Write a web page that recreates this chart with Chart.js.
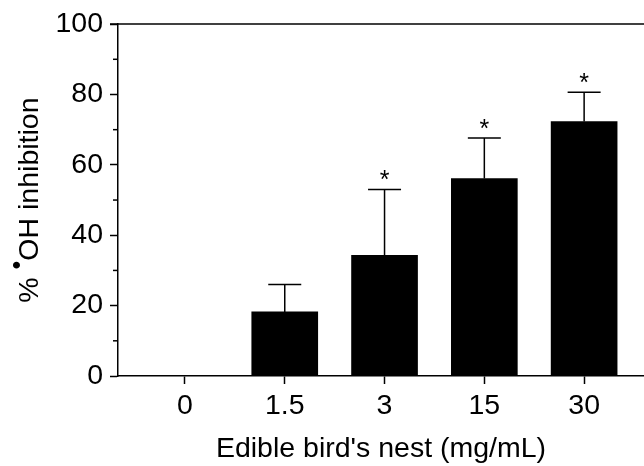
<!DOCTYPE html>
<html>
<head>
<meta charset="utf-8">
<script src="https://cdn.jsdelivr.net/npm/chart.js@4.4.0/dist/chart.umd.min.js"></script>
<style>
  body { margin: 0; background: #fff; }
  #wrap { width: 644px; height: 466px; }
</style>
</head>
<body>
<div id="wrap"><canvas id="myChart"></canvas></div>
<script>
// data
var doses = ['0', '1.5', '3', '15', '30'];
var inhibition = [0, 18.2, 34.3, 56.1, 72.3];
var errUp = [0, 7.8, 18.7, 11.5, 8.3];
var signif = [false, false, true, true, true];
var yTicks = [0, 20, 40, 60, 80, 100];
var yMinorTicks = [10, 30, 50, 70, 90];

var FONT = "'Liberation Sans', Arial, sans-serif";
var FSIZE = 28.5;

function getPoints() {
  var pts = [];
  for (var i = 0; i < doses.length; i++) {
    pts.push({ x: i, y: inhibition[i] });
  }
  return pts;
}

// error bars, asterisks, top frame, minor ticks and y title
var extras = {
  id: 'extras',
  afterDatasetsDraw: function(chart) {
    var ctx = chart.ctx;
    var xs = chart.scales.x;
    var ys = chart.scales.y;
    var area = chart.chartArea;

    ctx.save();
    ctx.strokeStyle = '#000';
    ctx.fillStyle = '#000';
    ctx.lineWidth = 1.5;

    for (var i = 0; i < doses.length; i++) {
      if (errUp[i] <= 0) continue;
      var cx = xs.getPixelForValue(i);
      var yTop = ys.getPixelForValue(inhibition[i] + errUp[i]);
      var yBar = ys.getPixelForValue(inhibition[i]);
      ctx.beginPath();
      ctx.moveTo(cx, yBar);
      ctx.lineTo(cx, yTop);
      ctx.moveTo(cx - 16.5, yTop);
      ctx.lineTo(cx + 16.5, yTop);
      ctx.stroke();

      if (signif[i]) {
        ctx.font = '25px ' + FONT;
        ctx.textAlign = 'center';
        ctx.textBaseline = 'alphabetic';
        ctx.fillText('*', cx, yTop - 1);
      }
    }

    // top frame line
    ctx.beginPath();
    ctx.moveTo(area.left - 8, area.top);
    ctx.lineTo(area.right, area.top);
    ctx.stroke();

    // minor ticks
    for (var j = 0; j < yMinorTicks.length; j++) {
      var yy = ys.getPixelForValue(yMinorTicks[j]);
      ctx.beginPath();
      ctx.moveTo(area.left - 5, yy);
      ctx.lineTo(area.left, yy);
      ctx.stroke();
    }

    // y title with raised radical dot
    var midY = (area.top + area.bottom) / 2;
    ctx.translate(38, midY);
    ctx.rotate(-Math.PI / 2);
    ctx.textAlign = 'left';
    ctx.textBaseline = 'alphabetic';
    var big = FSIZE + 'px ' + FONT;
    var small = '25px ' + FONT;
    ctx.font = big;
    var w1 = ctx.measureText('% ').width;
    var w3 = ctx.measureText('OH inhibition').width;
    ctx.font = small;
    var w2 = ctx.measureText('\u2022').width;
    var x0 = -(w1 + w2 + w3) / 2;
    ctx.font = big;
    ctx.fillText('% ', x0, 0);
    ctx.font = small;
    ctx.fillText('\u2022', x0 + w1, -13);
    ctx.font = big;
    ctx.fillText('OH inhibition', x0 + w1 + w2, 0);
    ctx.restore();
  }
};

var ctx = document.getElementById('myChart').getContext('2d');
var chart = new Chart(ctx, {
  type: 'bar',
  data: {
    datasets: [{
      data: getPoints(),
      backgroundColor: '#000',
      borderWidth: 0,
      barThickness: 66
    }]
  },
  options: {
    responsive: true,
    maintainAspectRatio: false,
    animation: false,
    layout: { padding: { top: 21, right: 0, left: 0, bottom: 0 } },
    plugins: {
      legend: { display: false },
      tooltip: { enabled: false }
    },
    scales: {
      x: {
        type: 'linear',
        offset: false,
        min: -0.671,
        max: 4.60,
        afterBuildTicks: function(scale) {
          scale.ticks = doses.map(function(d, i) { return { value: i }; });
        },
        afterFit: function(scale) { scale.height = 90; },
        ticks: {
          color: '#000',
          font: { family: FONT, size: FSIZE },
          padding: 5,
          maxRotation: 0,
          autoSkip: false,
          callback: function(v) { return doses[v]; }
        },
        grid: {
          offset: false,
          drawOnChartArea: false,
          tickLength: 8,
          tickColor: '#000',
          tickWidth: 1.5
        },
        border: { color: '#000', width: 1.5 },
        title: {
          display: true,
          text: "Edible bird's nest (mg/mL)",
          color: '#000',
          font: { family: FONT, size: FSIZE },
          padding: { top: 0, bottom: 0 }
        }
      },
      y: {
        min: 0,
        max: 100,
        afterBuildTicks: function(scale) {
          scale.ticks = yTicks.map(function(v) { return { value: v }; });
        },
        afterFit: function(scale) { scale.width = 118; },
        ticks: {
          color: '#000',
          font: { family: FONT, size: FSIZE },
          padding: 7
        },
        grid: {
          drawOnChartArea: false,
          tickLength: 8,
          tickColor: '#000',
          tickWidth: 1.5
        },
        border: { color: '#000', width: 1.5 }
      }
    }
  },
  plugins: [extras]
});
</script>
</body>
</html>
